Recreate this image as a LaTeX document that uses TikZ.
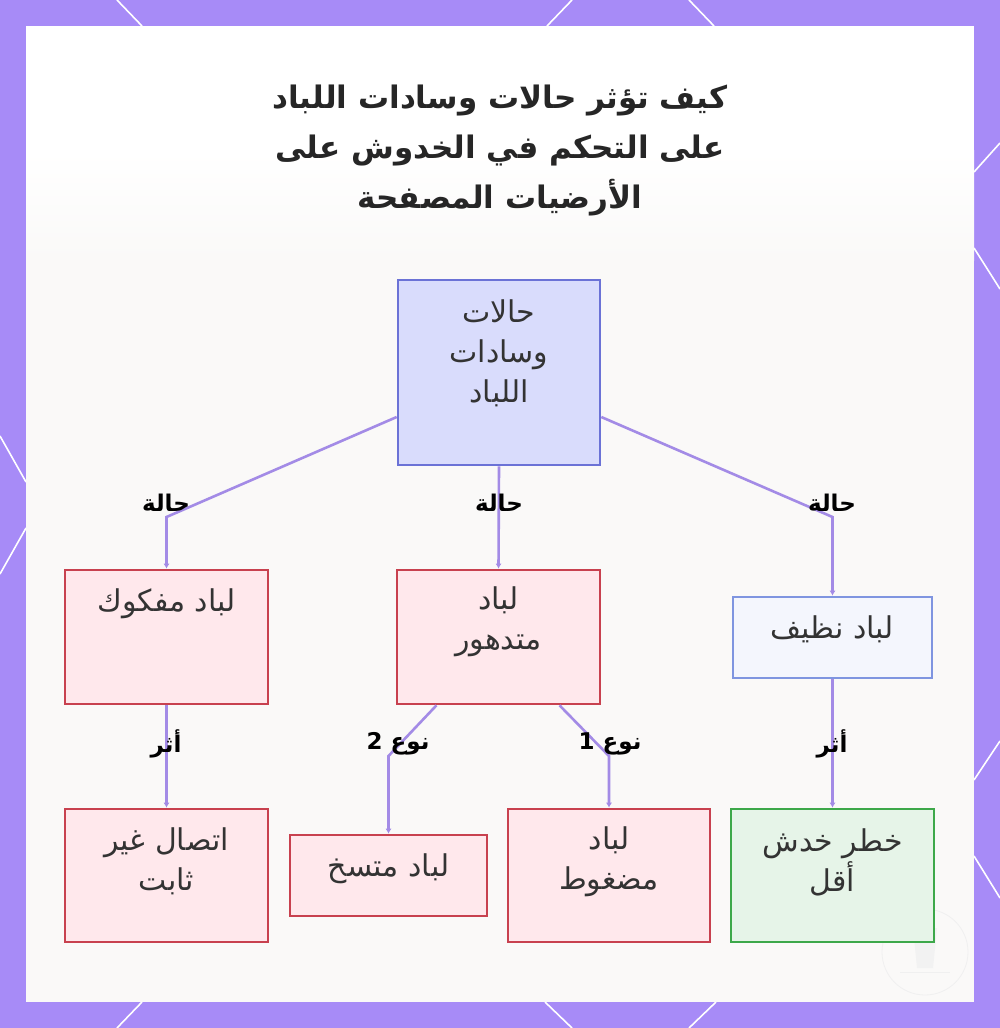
\documentclass[tikz,border=0pt]{standalone}
\usepackage{fontspec}
\setmainfont{DejaVu Sans}
\newfontfamily\arabicfont[Script=Arabic]{DejaVu Sans}
\TeXXeTstate=1
\usetikzlibrary{arrows.meta,calc}
\definecolor{framecol}{HTML}{A78BF7}
\definecolor{edgecol}{HTML}{A38BE6}
\definecolor{txtcol}{HTML}{333333}
\definecolor{panelfill}{HTML}{FAF9F8}
\definecolor{rootfill}{HTML}{D9DCFC}
\definecolor{rootdraw}{HTML}{6B72D6}
\definecolor{redfill}{HTML}{FFE8EC}
\definecolor{reddraw}{HTML}{C8414F}
\definecolor{cleanfill}{HTML}{F4F6FD}
\definecolor{cleandraw}{HTML}{7F95E0}
\definecolor{greenfill}{HTML}{E6F4E8}
\definecolor{greendraw}{HTML}{3DA84A}
\newcommand{\ar}[1]{{\arabicfont\beginR #1\endR}}
\begin{document}
\begin{tikzpicture}[x=1pt,y=-1pt,
  basebox/.style={rectangle, line width=2.6pt, inner sep=0pt},
  rootbox/.style={basebox, draw=rootdraw, fill=rootfill},
  redbox/.style={basebox, draw=reddraw, fill=redfill},
  cleanbox/.style={basebox, draw=cleandraw, fill=cleanfill},
  greenbox/.style={basebox, draw=greendraw, fill=greenfill},
  boxtext/.style={text=txtcol, align=center, inner sep=0pt, font=\fontsize{30}{40}\selectfont},
  lbl/.style={text=black, inner sep=0pt, font=\fontsize{23}{26}\selectfont\bfseries},
  edge/.style={draw=edgecol, line width=2.6pt, -{Latex[length=5pt,width=6pt]}},
  titletext/.style={text=black!85, align=center, inner sep=0pt, font=\fontsize{31}{50}\selectfont\bfseries},
  frameline/.style={draw=white, line width=1.6pt}
]
\useasboundingbox (0,0) rectangle (1000,1028);
% frame
\fill[framecol] (0,0) rectangle (1000,1028);
\draw[frameline] (117,0) -- (142,26);
\draw[frameline] (572,0) -- (547,26);
\draw[frameline] (689,0) -- (714,26);
\draw[frameline] (117,1028) -- (142,1002);
\draw[frameline] (572,1028) -- (545,1002);
\draw[frameline] (689,1028) -- (716,1002);
\draw[frameline] (0,436) -- (26,482);
\draw[frameline] (0,574) -- (26,528);
\draw[frameline] (1000,143) -- (974,172);
\draw[frameline] (1000,289) -- (974,248);
\draw[frameline] (1000,741) -- (974,780);
\draw[frameline] (1000,898) -- (974,856);
% panel
\fill[white] (26,26) rectangle (974,1002);
\shade[top color=white, bottom color=panelfill] (26,150) rectangle (974,260);
\fill[panelfill] (26,259) rectangle (974,1002);
% watermark
\draw[black!6, line width=0.8pt] (925,952) circle (43);
\fill[black!5] (913,928) -- (937,928) -- (933,968) -- (917,968) -- cycle;
\draw[black!6, line width=1pt] (900,972) -- (950,972);

% title
\node[titletext] (title) at (500,151) {\ar{كيف تؤثر حالات وسادات اللباد}\\\ar{على التحكم في الخدوش على}\\\ar{الأرضيات المصفحة}};

% boxes
\node[rootbox, minimum width=202, minimum height=185] (root) at (499,372.5) {};
\node[redbox, minimum width=203, minimum height=134] (loose) at (166.5,637) {};
\node[redbox, minimum width=203, minimum height=134] (mid) at (498.5,637) {};
\node[cleanbox, minimum width=199, minimum height=81] (clean) at (832.5,637.5) {};
\node[redbox, minimum width=203, minimum height=133] (unstable) at (166.5,875.5) {};
\node[redbox, minimum width=197, minimum height=81] (dirty) at (388.5,875.5) {};
\node[redbox, minimum width=202, minimum height=133] (comp) at (609,875.5) {};
\node[greenbox, minimum width=203, minimum height=133] (less) at (832.5,875.5) {};

% box texts
\node[boxtext] (rootT) at (499,353) {\ar{حالات}\\\ar{وسادات}\\\ar{اللباد}};
\node[boxtext] (looseT) at (166.5,604) {\ar{لباد مفكوك}};
\node[boxtext] (midT) at (498.5,622) {\ar{لباد}\\\ar{متدهور}};
\node[boxtext] (cleanT) at (832.5,629) {\ar{لباد نظيف}};
\node[boxtext] (unstableT) at (166.5,861) {\ar{اتصال غير}\\\ar{ثابت}};
\node[boxtext] (dirtyT) at (388.5,869) {\ar{لباد متسخ}};
\node[boxtext] (compT) at (609,862) {\ar{لباد}\\\ar{مضغوط}};
\node[boxtext] (lessT) at (832.5,862) {\ar{خطر خدش}\\\ar{أقل}};

% connectors
\coordinate (k1) at (0,517);
\coordinate (k2) at (0,756);
\draw[edge] ($(root.west)+(0,44.5)$) -- (loose.north |- k1) -- (loose.north);
\draw[edge] (root.south) -- (mid.north);
\draw[edge] ($(root.east)+(0,44.5)$) -- (clean.north |- k1) -- (clean.north);
\draw[edge] (loose.south) -- (unstable.north);
\draw[edge] ($(mid.south)+(-62,0)$) -- (dirty.north |- k2) -- (dirty.north);
\draw[edge] ($(mid.south)+(61,0)$) -- (comp.north |- k2) -- (comp.north);
\draw[edge] (clean.south) -- (less.north);

% labels
\node[lbl] (l1) at (166,503) {\ar{حالة}};
\node[lbl] (l2) at (499,503) {\ar{حالة}};
\node[lbl] (l3) at (832,503) {\ar{حالة}};
\node[lbl] (l4) at (166,744) {\ar{أثر}};
\node[lbl] (l5) at (398,744) {\ar{نوع 2}};
\node[lbl] (l6) at (610,744) {\ar{نوع 1}};
\node[lbl] (l7) at (832,744) {\ar{أثر}};
\end{tikzpicture}
\end{document}
